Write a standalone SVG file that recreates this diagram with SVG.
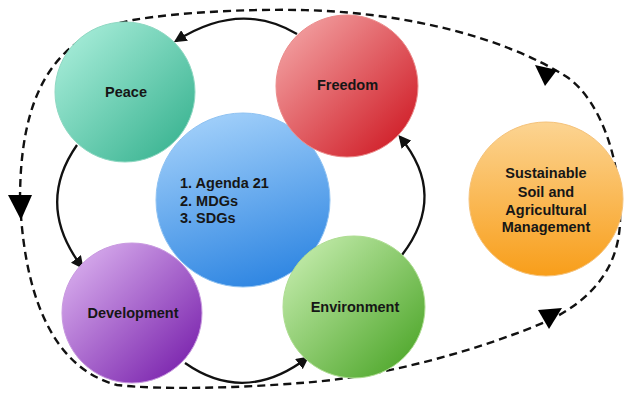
<svg xmlns="http://www.w3.org/2000/svg" width="625" height="393" viewBox="0 0 625 393">
<style>
.lbl{font-family:"Liberation Sans",Arial,sans-serif;font-weight:bold;font-size:14.5px;fill:#161616;text-anchor:middle}
.lst{font-family:"Liberation Sans",Arial,sans-serif;font-weight:bold;font-size:14.5px;fill:#161616}
.solid{fill:none;stroke:#111;stroke-width:2.3;marker-end:url(#ah)}
.dash{fill:none;stroke:#111;stroke-width:2.4;stroke-dasharray:8 5}
.tri{fill:#000}
</style>
<defs>
<marker id="ah" viewBox="0 0 10 10" refX="8" refY="5" markerWidth="5.5" markerHeight="5.5" orient="auto" markerUnits="strokeWidth">
<path d="M0,0 L10,5 L0,10 z" fill="#111"/>
</marker>
<linearGradient id="gPeace" x1="0" y1="0" x2="1" y2="1"><stop offset="0" stop-color="#b2f2e0"/><stop offset="1" stop-color="#2fae8a"/></linearGradient>
<linearGradient id="gFree" x1="0" y1="0" x2="1" y2="1"><stop offset="0" stop-color="#f6aeae"/><stop offset="1" stop-color="#cc0f1a"/></linearGradient>
<linearGradient id="gCen" x1="0.3" y1="0" x2="0.6" y2="1"><stop offset="0" stop-color="#a2d0fa"/><stop offset="1" stop-color="#2f86e2"/></linearGradient>
<linearGradient id="gDev" x1="0" y1="0" x2="1" y2="1"><stop offset="0" stop-color="#e2bcf4"/><stop offset="1" stop-color="#7014a6"/></linearGradient>
<linearGradient id="gEnv" x1="0" y1="0" x2="1" y2="1"><stop offset="0" stop-color="#cff2b8"/><stop offset="1" stop-color="#43a01e"/></linearGradient>
<linearGradient id="gSus" x1="0" y1="0" x2="0" y2="1"><stop offset="0" stop-color="#fcd492"/><stop offset="1" stop-color="#f89e1a"/></linearGradient>
</defs>
<rect width="625" height="393" fill="#fff"/>
<g id="connectors">
<path class="dash" d="M 20 200 C 20 100, 50 35, 133 20 C 180 12, 250 9, 300 10 C 400 12, 500 35, 567 77 C 600 100, 622 160, 620 223 C 618 270, 590 300, 550 320 C 480 350, 380 378, 300 383 C 240 388, 160 390, 117 385 C 60 370, 25 310, 20 200 Z"/>
<polygon class="tri" points="8,195 32,195 21,220"/>
<polygon class="tri" points="535,65 557,70 545,86"/>
<polygon class="tri" points="538,310 562,308 549,329"/>
<path class="solid" d="M 297 34 Q 240 0 176 41"/>
<path class="solid" d="M 77 145 Q 35 205 82 267"/>
<path class="solid" d="M 185 363 Q 245 405 307 358"/>
<path class="solid" d="M 402 255 Q 448 195 400 137"/>
</g>
<g id="center">
<circle cx="243" cy="200" r="87" fill="url(#gCen)" stroke="#8fc2f2" stroke-width="1"/>
<text class="lst" x="180" y="188">1. Agenda 21</text>
<text class="lst" x="180" y="205.5">2. MDGs</text>
<text class="lst" x="180" y="223">3. SDGs</text>
</g>
<g id="peace">
<circle cx="125" cy="92" r="70" fill="url(#gPeace)" stroke="#8fd8c2" stroke-width="1"/>
<text class="lbl" x="126" y="96.5">Peace</text>
</g>
<g id="freedom">
<circle cx="347" cy="86" r="71" fill="url(#gFree)" stroke="#eb8c8c" stroke-width="1"/>
<text class="lbl" x="347.5" y="90">Freedom</text>
</g>
<g id="development">
<circle cx="132" cy="313" r="70" fill="url(#gDev)" stroke="#c99ae0" stroke-width="1"/>
<text class="lbl" x="133" y="318">Development</text>
</g>
<g id="environment">
<circle cx="354" cy="307" r="71" fill="url(#gEnv)" stroke="#aedd92" stroke-width="1"/>
<text class="lbl" x="355" y="312">Environment</text>
</g>
<g id="sustainable">
<circle cx="546" cy="199" r="77" fill="url(#gSus)" stroke="#f5c27a" stroke-width="1"/>
<text class="lbl" x="546" y="178">Sustainable</text>
<text class="lbl" x="546" y="196.5">Soil and</text>
<text class="lbl" x="546" y="214.5">Agricultural</text>
<text class="lbl" x="546" y="232">Management</text>
</g>
</svg>
